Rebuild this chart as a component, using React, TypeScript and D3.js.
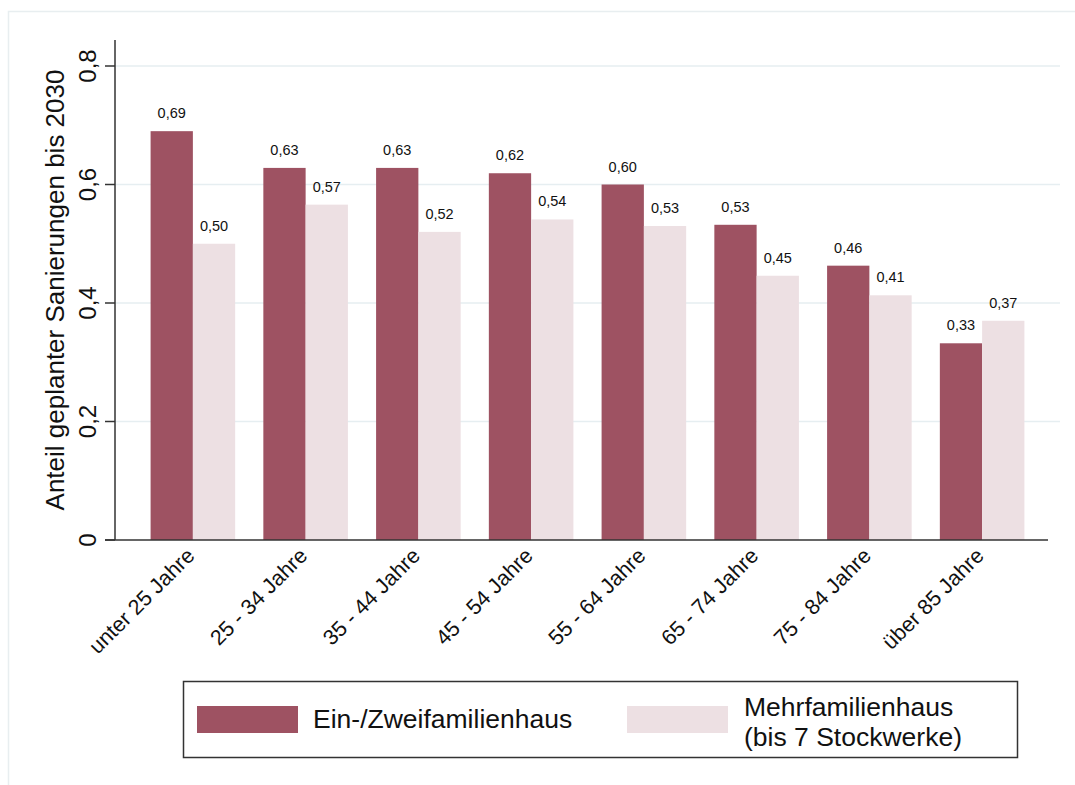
import React from "react";
import * as d3 from "d3";

const categories = ["unter 25 Jahre", "25 - 34 Jahre", "35 - 44 Jahre", "45 - 54 Jahre", "55 - 64 Jahre", "65 - 74 Jahre", "75 - 84 Jahre", "über 85 Jahre"];
const einZwei = [0.69, 0.628, 0.628, 0.619, 0.6, 0.532, 0.463, 0.332];
const mehr = [0.5, 0.566, 0.52, 0.541, 0.53, 0.446, 0.413, 0.37];
const yTicks = [0, 0.2, 0.4, 0.6, 0.8];
const seriesNames = ["Ein-/Zweifamilienhaus", "Mehrfamilienhaus"];
const colors = ["#9e5262", "#ede0e3"];

const FONT = "'Liberation Sans', Arial, sans-serif";

export default function App() {
  const W = 1075, H = 785;
  const x0 = 115, y0 = 540;
  const y = d3.scaleLinear().domain([0, 0.8]).range([540, 66]);
  const x = d3.scaleBand<string>().domain(categories).range([136.5, 1038.5]).paddingInner(0.25).paddingOuter(0.125);
  const xs = d3.scaleBand<string>().domain(seriesNames).range([0, x.bandwidth()]).padding(0);
  const fmt = (v: number) => d3.format(".2f")(v).replace(".", ",");
  const tickFmt = (v: number) => (v === 0 ? "0" : d3.format(".1f")(v).replace(".", ","));
  const series = [einZwei, mehr];

  return (
    <svg width={W} height={H} style={{ position: "absolute", left: 0, top: 0 }} fontFamily={FONT}>
      <rect x={0} y={0} width={W} height={H} fill="#ffffff" />
      <rect x={8.5} y={11.5} width={1070} height={780} fill="#ffffff" stroke="#e8eef0" strokeWidth={1.5} />
      {yTicks.filter(t => t > 0).map(t => (
        <line key={"g" + t} x1={x0} x2={1060} y1={y(t)} y2={y(t)} stroke="#e6eef1" strokeWidth={1.5} />
      ))}
      {series.map((vals, si) =>
        categories.map((c, i) => (
          <rect key={si + "-" + i} x={(x(c) ?? 0) + (xs(seriesNames[si]) ?? 0)} y={y(vals[i])} width={xs.bandwidth()} height={y(0) - y(vals[i])} fill={colors[si]} />
        ))
      )}
      {series.map((vals, si) =>
        categories.map((c, i) => (
          <text key={"l" + si + "-" + i} x={(x(c) ?? 0) + (xs(seriesNames[si]) ?? 0) + xs.bandwidth() / 2} y={y(vals[i]) - 13} textAnchor="middle" fontSize={14.5} fill="#111">
            {fmt(vals[i])}
          </text>
        ))
      )}
      <line x1={x0} x2={x0} y1={40} y2={y0} stroke="#333" strokeWidth={1.5} />
      <line x1={105} x2={1048} y1={y0} y2={y0} stroke="#333" strokeWidth={1.5} />
      {yTicks.map(t => (
        <g key={"t" + t}>
          <line x1={105} x2={x0} y1={y(t)} y2={y(t)} stroke="#333" strokeWidth={1.5} />
          <text transform={`translate(${96},${y(t)}) rotate(-90)`} textAnchor="middle" fontSize={24} fill="#111">
            {tickFmt(t)}
          </text>
        </g>
      ))}
      <text transform={`translate(64,${290}) rotate(-90)`} textAnchor="middle" fontSize={26} fill="#111">
        Anteil geplanter Sanierungen bis 2030
      </text>
      {categories.map(c => (
        <text key={"x" + c} transform={`translate(${(x(c) ?? 0) + x.bandwidth() / 2 + 3},${557}) rotate(-45)`} textAnchor="end" fontSize={21.5} fill="#111">
          {c}
        </text>
      ))}
      <rect x={183.5} y={681.5} width={834} height={76} fill="#fff" stroke="#333" strokeWidth={1.5} />
      <rect x={197} y={706} width={101} height={27} fill={colors[0]} />
      <text x={313} y={728} fontSize={26.5} fill="#111">Ein-/Zweifamilienhaus</text>
      <rect x={627} y={706} width={101} height={27} fill={colors[1]} />
      <text x={744} y={716} fontSize={26.5} fill="#111">Mehrfamilienhaus</text>
      <text x={744} y={746} fontSize={26.5} fill="#111">(bis 7 Stockwerke)</text>
    </svg>
  );
}
